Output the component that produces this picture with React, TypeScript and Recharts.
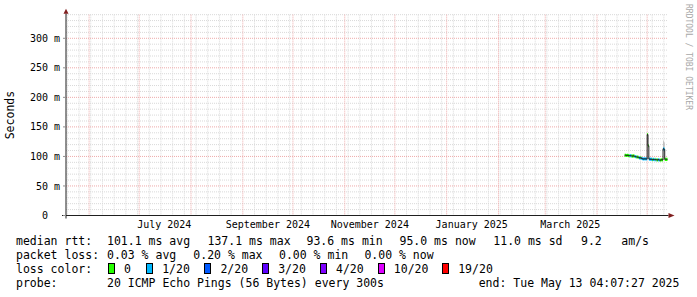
import {
  ComposedChart,
  Area,
  Line,
  XAxis,
  YAxis,
  CartesianGrid,
  ReferenceLine,
} from "recharts";

const MONO = '"DejaVu Sans Mono", monospace';
const AXIS = "#1f1f1f";
const ARROW = "#801f1f";

// x axis runs in days since 2024-06-01 00:00 UTC
const EPOCH = Date.UTC(2024, 5, 1);
const toDay = (s: string) =>
  (Date.parse(s.length === 10 ? s + "T00:00:00Z" : s + "Z") - EPOCH) / 86400000;

const graphStart = "2024-05-18T04:07:27";
const graphEnd = "2025-05-13T04:07:27";

const monthStarts = [
  "2024-06-01", "2024-07-01", "2024-08-01", "2024-09-01", "2024-10-01", "2024-11-01",
  "2024-12-01", "2025-01-01", "2025-02-01", "2025-03-01", "2025-04-01", "2025-05-01",
];
const firstWeekLine = "2024-05-19";
const monthTickDates = ["2024-07-16", "2024-09-16", "2024-11-16", "2025-01-16", "2025-03-16"];
const monthTickLabels = ["July 2024", "September 2024", "November 2024", "January 2025", "March 2025"];

const yTicks = [0, 50, 100, 150, 200, 250, 300];
const yMax = 340;

// 12h consolidated samples, first one starts 2025-04-17 12:00
const sampleStart = "2025-04-17T12:00:00";
const medianRtt = [
  102, 102, 101.5, 102, 101.5, 101, 101.5, 101, 101, 100.5,
  101, 100.5, 100, 99.5, 99, 99, 98.5, 98, 97, 98,
  96.5, 96, 95.5, 96, 95.5, 96, 95.5, 137.1, 118, 95.5,
  95, 95.5, 95, 94.5, 95, 94.5, 95, 94, 94.5, 94,
  94.5, 94, 93.6, 94, 94.5, 94, 113, 112, 95, 95,
  95, 95,
];
// lost pings out of 20
const lossCount = [
  0, 0, 0, 0, 0, 0, 1, 1, 0, 0,
  0, 0, 1, 1, 0, 0, 0, 1, 1, 0,
  1, 1, 1, 1, 1, 1, 1, 0, 0, 1,
  1, 1, 1, 0, 1, 1, 0, 1, 0, 0,
  1, 1, 0, 0, 0, 0, 1, 1, 0, 0,
  0, 0,
];
// smoke (ping spread) where it shows outside the median band
const smokeIndex = [45, 46, 47, 48];
const smokeLow = [93, 109, 108, 94];
const smokeHigh = [95, 127, 124, 96];

const lossLevels = [0, 1, 2, 3, 4, 10, 19];
const lossLabels = ["0", "1/20", "2/20", "3/20", "4/20", "10/20", "19/20"];
const lossColors = ["#26ff00", "#00b8ff", "#0059ff", "#5e00ff", "#7e00ff", "#dd00ff", "#ff0000"];

const statsRtt = ["median rtt:", "101.1 ms avg", "137.1 ms max", "93.6 ms min", "95.0 ms now", "11.0 ms sd", "9.2", "am/s"];
const statsLoss = ["packet loss:", "0.03 % avg", "0.20 % max", "0.00 % min", "0.00 % now"];
const probeText = ["probe:", "20 ICMP Echo Pings (56 Bytes) every 300s", "end: Tue May 13 04:07:27 2025"];

const BAND = 2.6; // half height of the loss colour band, ms

const rows: any[] = [];
const t0 = toDay(sampleStart);
medianRtt.forEach((m, i) => {
  const si = smokeIndex.indexOf(i);
  const r: any = { median: m, smoke: si >= 0 ? [smokeLow[si], smokeHigh[si]] : null };
  lossLevels.forEach((lvl) => {
    r[`loss${lvl}`] = lossCount[i] === lvl ? [m - BAND, m + BAND] : null;
  });
  // each sample covers its 12h slot
  rows.push({ ...r, day: t0 + i * 0.5 }, { ...r, day: t0 + i * 0.5 + 0.5 });
});

const xStart = toDay(graphStart);
const xEnd = toDay(graphEnd);
const monthLines = monthStarts.map(toDay);
const weekLines: number[] = [];
for (let d = toDay(firstWeekLine); d < xEnd; d += 7) {
  if (!monthLines.includes(d)) weekLines.push(d);
}
const minorY: number[] = [];
for (let v = 10; v <= yMax; v += 10) if (v % 50 !== 0) minorY.push(v);
const usedLevels = lossLevels.filter((l) => lossCount.includes(l));

const XAxisArrow = (p: any) => (
  <g>
    <line x1={p.x1 - 4} y1={p.y1} x2={p.x2 + 1} y2={p.y2} stroke={AXIS} />
    <polygon points={`${p.x2 + 1},${p.y2 - 2.5} ${p.x2 + 7},${p.y2} ${p.x2 + 1},${p.y2 + 2.5}`} fill={ARROW} />
  </g>
);

const YAxisArrow = (p: any) => (
  <g>
    <line x1={p.x1} y1={p.y1 + 3} x2={p.x2} y2={p.y2 - 1} stroke={AXIS} />
    <polygon points={`${p.x2 - 2.5},${p.y2 - 1} ${p.x2},${p.y2 - 6} ${p.x2 + 2.5},${p.y2 - 1}`} fill={ARROW} />
  </g>
);

// legend layout (left edges, px)
const rttX = [16, 107, 207.5, 306.5, 399.5, 493.3, 581, 621.3];
const lossX = [16, 107, 193.3, 279, 364.4];
const swatchX = [108, 146.2, 204.4, 262.2, 320, 377.8, 442.2];
const probeX = [16, 107, 478.7];
const lineTop = [234, 248, 262, 276];

function LegendRow({ top, items, xs }: { top: number; items: string[]; xs: number[] }) {
  return (
    <>
      {items.map((t, i) => (
        <span key={i} style={{ position: "absolute", top, left: xs[i], whiteSpace: "pre" }}>{t}</span>
      ))}
    </>
  );
}

export default function App() {
  return (
    <div style={{ position: "absolute", left: 0, top: 0, width: 697, height: 297, background: "#fff", fontFamily: MONO, fontSize: 11.5, lineHeight: "14px", color: "#000" }}>
      <ComposedChart width={697} height={297} data={rows} margin={{ top: 14.66, right: 29.5, bottom: 61.5, left: 0 }}>
        <CartesianGrid horizontalValues={minorY} verticalValues={weekLines} stroke="#d9d9d9" strokeDasharray="1 1" />
        <CartesianGrid horizontalValues={yTicks} verticalValues={monthLines} stroke="#eeaaaa" strokeDasharray="1 1" />
        <XAxis
          dataKey="day" type="number" domain={[xStart, xEnd]} allowDataOverflow
          ticks={monthTickDates.map(toDay)} interval={0}
          tickFormatter={(_v, i) => monthTickLabels[i]}
          axisLine={false} tickLine={false} tickSize={0} tickMargin={5} height={20}
          tick={{ fontSize: 10, fill: "#000", fontFamily: MONO }}
        />
        <YAxis
          type="number" domain={[0, yMax]} allowDataOverflow ticks={yTicks} interval={0} width={66}
          tickFormatter={(v) => (v === 0 ? "0\u00a0\u00a0" : `${v} m`)}
          axisLine={false} tickLine={{ stroke: "#909090" }} tickSize={3} tickMargin={3}
          tick={{ fontSize: 10, fill: "#000", fontFamily: MONO }}
          label={{ value: "Seconds", angle: -90, position: "center", dx: -23, fontSize: 11.5, fontFamily: MONO, fill: "#000" }}
        />
        <Area dataKey="smoke" type="linear" stroke="none" fill="#bdbdbd" fillOpacity={1} isAnimationActive={false} dot={false} activeDot={false} />
        {usedLevels.map((lvl) => (
          <Area
            key={lvl} dataKey={`loss${lvl}`} type="linear" stroke="none"
            fill={lossColors[lossLevels.indexOf(lvl)]} fillOpacity={1}
            isAnimationActive={false} dot={false} activeDot={false}
          />
        ))}
        <Line dataKey="median" type="linear" stroke="#202020" strokeWidth={1} dot={false} activeDot={false} isAnimationActive={false} />
        <ReferenceLine segment={[{ x: xStart, y: 0 }, { x: xEnd, y: 0 }]} ifOverflow="visible" shape={XAxisArrow} />
        <ReferenceLine segment={[{ x: xStart, y: 0 }, { x: xStart, y: yMax }]} ifOverflow="visible" shape={YAxisArrow} />
      </ComposedChart>

      <LegendRow top={lineTop[0]} items={statsRtt} xs={rttX} />
      <LegendRow top={lineTop[1]} items={statsLoss} xs={lossX} />
      <span style={{ position: "absolute", top: lineTop[2], left: 16 }}>loss color:</span>
      {lossLabels.map((l, i) => (
        <span key={l} style={{ position: "absolute", top: lineTop[2], left: swatchX[i], whiteSpace: "pre" }}>
          <span style={{ display: "inline-block", width: 5, height: 9, border: "1px solid #000", background: lossColors[i], verticalAlign: "-1px", marginRight: 9 }} />
          {l}
        </span>
      ))}
      <LegendRow top={lineTop[3]} items={probeText} xs={probeX} />

      <div style={{ position: "absolute", left: 684, top: 4, writingMode: "vertical-rl", fontSize: 8, lineHeight: "8px", color: "#a8a8a8" }}>
        RRDTOOL / TOBI OETIKER
      </div>
    </div>
  );
}
